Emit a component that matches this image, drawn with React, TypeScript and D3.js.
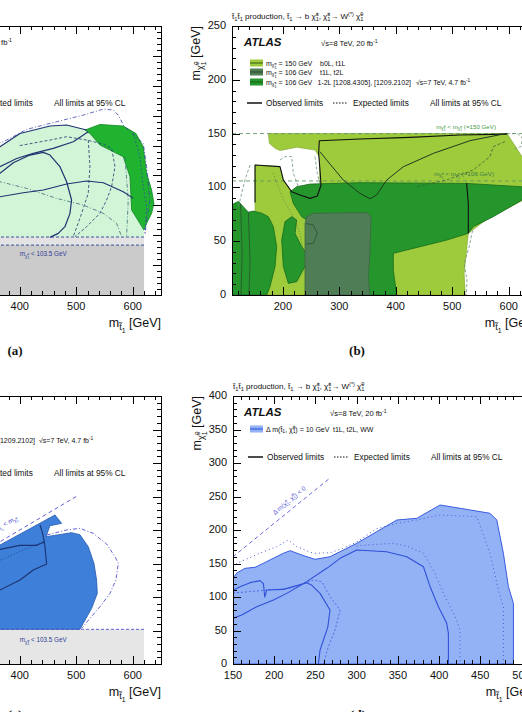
import React, { useEffect, useRef } from 'react';
import * as d3 from 'd3';

type Pt = [number, number];
type Seg = [string, string?, number?];

const W = 522;
const H = 712;
const FONT = "'Liberation Sans', 'DejaVu Sans', Arial, sans-serif";

const chi = '\u03c7\u0303';
const stop = 't\u0303';

// tick labels
const stopTicks = [200, 300, 400, 500, 600];
const aLspTicks = [0, 50, 100, 150, 200, 250, 300, 350, 400, 450];
const bLspTicks = [0, 50, 100, 150, 200, 250];
const cLspTicks = [0, 50, 100, 150, 200, 250, 300, 350, 400];
const dStopTicks = [150, 200, 250, 300, 350, 400, 450, 500];
const dLspTicks = [0, 50, 100, 150, 200, 250, 300, 350, 400];

// ---- (a) ----
const aLepLimit = 83.5;
const aBandEdge = 97;
const aGrayEnd = 620;
const aMintArea: Pt[] = [
  [112, 97], [130, 140], [200, 200], [300, 232], [364.9, 248.1], [400.3, 270.3], [453.4, 282.6],
  [482.9, 284.3], [518.3, 275.9], [541.9, 285.4], [583.2, 282.6], [605.6, 270.3], [618.6, 248],
  [620, 200], [620, 97],
];
const aGreenArea: Pt[] = [
  [515.4, 275.9], [541.9, 285.4], [583.2, 282.6], [605.6, 270.3], [618.6, 248], [624.5, 203.5],
  [633.4, 175.6], [637.5, 153.3], [633.4, 136.6], [624.5, 119.8], [619.8, 108.7], [598, 142.1],
  [595, 197.9], [583.2, 231.3], [565.5, 239.7], [541.9, 250.8], [524.2, 270.3],
];
const aObsTop: Pt[] = [
  [200, 200], [300, 232], [364.9, 248.1], [400.3, 270.3], [453.4, 282.6], [482.9, 284.3], [518.3, 275.9],
];
const aObs1: Pt[] = [
  [330, 180], [364.9, 203.5], [388.5, 221.3], [418, 234.1], [441.6, 238.6], [453.4, 234.1], [471.1, 214.6],
  [482.9, 189.5], [491.7, 158.9], [488.8, 136.6], [479.9, 114.3], [468.2, 103.1], [453.4, 96.4],
];
const aObs2: Pt[] = [
  [330, 160], [364.9, 164.4], [406.2, 171.1], [441.6, 175.6], [482.9, 185.6], [518.3, 190.6],
  [547.8, 187.8], [583.2, 172.8], [600.9, 161.6],
];
const aObs3: Pt[] = [
  [330, 205], [364.9, 214.6], [394.4, 228.5], [423.9, 236.9], [459.3, 245.3], [494.7, 256.4], [521.2, 273.1],
];
const aExp1: Pt[] = [
  [330, 240], [376.7, 259.2], [412.1, 277], [453.4, 287.1], [512.4, 301], [547.8, 311], [565.5, 309.4],
  [574.3, 301], [584.4, 282.6], [618.6, 253.6], [624.5, 214.6], [630.4, 158.9], [624.5, 125.4], [621.6, 100.3],
];
const aExp2: Pt[] = [
  [400, 250], [453.4, 259.2], [482.9, 264.8], [518.3, 259.2], [547.8, 252.5], [562.6, 245.3], [568.5, 214.6],
  [562.6, 181.2], [553.7, 158.9], [541.9, 136.6], [518.3, 114.3], [497.7, 97.5],
];
const aExp3: Pt[] = [[521.2, 259.2], [524.2, 214.6], [521.2, 170], [509.5, 136.6], [494.7, 97.5]];
const aExp4: Pt[] = [
  [330, 195], [364.9, 189.5], [412.1, 178.4], [465.2, 161.6], [512.4, 150.5], [547.8, 136.6], [571.4, 119.8], [580.3, 97.5],
];
const aExp5: Pt[] = [[586.1, 231.3], [592, 158.9], [589.1, 97.5]];
const aExp6: Pt[] = [[600.9, 270.3], [612.7, 231.3], [618.6, 181.2], [624.5, 147.7], [621.6, 103.1]];

// ---- (b) ----
const bMassHigh = 150;
const bMassLow = 106;
const bLightArea: Pt[] = [
  [174.4, 150], [597, 150], [623, 129], [650, 112], [650, 95], [560, 70], [528.4, 57.3], [525, 40],
  [521, 20], [523, 0], [150.8, 0], [150.8, 120.8], [195, 119.3], [200.9, 106.9], [215.7, 96.1],
  [265.8, 100.7], [264.6, 128.6], [257, 134.8], [224.5, 137.3], [195, 134.2], [186.2, 136.3], [176.1, 141],
];
const bDarkArea: Pt[] = [
  [212.7, 96], [224.5, 100.6], [248.1, 103.1], [336.6, 104.4], [525.4, 103.7], [623.3, 100.6], [650, 98],
  [650, 92], [623.2, 88.2], [572.6, 72.8], [537.2, 63.5], [528.4, 57.3], [490, 51], [443, 44.9],
  [395.6, 38.7], [395.6, 23.2], [401.5, 0], [242.2, 0], [242.2, 69.7], [233.4, 72.8], [218.6, 85.1],
];
const bSlateArea: Pt[] = [
  [242.2, 72.8], [254, 75.9], [348.4, 76.5], [356.1, 72.8], [354.3, 38.7], [351.4, 17], [354.3, 0],
  [239.3, 0], [239.3, 66.6],
];
const bBlobLeft: Pt[] = [
  [110, 84], [121.3, 87], [130.1, 82], [139, 77], [147.8, 78], [162.6, 76], [174.4, 72.8], [183.2, 63.5],
  [189.1, 45], [186.2, 26.4], [177.3, 7.8], [171.4, 0], [110, 0],
];
const bBlobMid: Pt[] = [
  [203.9, 68.2], [215.7, 72.8], [224.5, 69.7], [221.6, 57.3], [233.4, 45], [242.2, 38.8], [239.3, 26.4],
  [224.5, 12.4], [209.8, 10.8], [200.9, 26.4], [198, 51.2],
];
const bObs1: Pt[] = [
  [597, 149.5], [513.6, 148.7], [425.1, 146.5], [336.6, 145], [264.6, 143.4], [263.4, 131.6], [265.8, 116.1],
  [267.6, 102.2], [261.1, 92], [248.1, 89.8], [230.4, 92.9], [215.7, 96], [200.9, 106.9], [195, 119.3],
  [150.8, 120.8], [150.8, 86],
];
const bObs2: Pt[] = [
  [596.2, 150.2], [531.3, 143.4], [466.4, 131.6], [413.3, 119.2], [383.8, 106.8], [366.1, 92.9], [354.3, 89.5],
  [336.6, 94.4], [307.1, 106.8], [277.6, 125.4], [265.8, 133.2],
];
const bObs3: Pt[] = [[525.4, 104], [528.4, 85.1], [528.4, 57.3]];
const bObs4: Pt[] = [[125, 85], [128, 40], [126, 0]];
const bObs5: Pt[] = [[139, 77], [142, 30], [140, 0]];
const bObs6: Pt[] = [[241, 66.6], [254, 65], [261.1, 57.3], [254, 47.9], [241, 47.4]];
const bExp1: Pt[] = [[536, 60], [530, 45], [521, 29], [526, 14], [525, 0]];
const bExp2: Pt[] = [[593.3, 142.5], [572.6, 137.9], [566.7, 128.6], [537.2, 116.2], [490, 106.9], [436.9, 100.7]];
const bExp3: Pt[] = [[195, 125.5], [203.9, 128.6], [215.7, 128.6], [218.6, 113.1], [227.5, 100.7]];
const bExp4: Pt[] = [[257, 128.6], [261.1, 113.1], [265.8, 102.3]];
const bExp5: Pt[] = [[141.9, 120.8], [133, 106.9], [124.2, 88.3], [121.3, 82.1]];
const bExp6: Pt[] = [[183.2, 113.1], [200.9, 88.3], [218.6, 72.8], [230.4, 57.3], [239.3, 32.4], [245.2, 1.6]];
const bExp7: Pt[] = [[597, 150], [615, 150], [624, 146], [622, 138], [610, 136]];
const bLegendMasses = ['150', '106', '106'];
const bLegendAnalyses = ['b0L, t1L', 't1L, t2L', '1-2L [1208.4305], [1209.2102]'];

// ---- (c) ----
const cLepLimit = 51.75;
const cGrayEnd = 620;
const cDiagStop = [110, 502];
const cBlueArea: Pt[] = [
  [250, 51.75], [506.5, 51.75], [512.4, 60.7], [527.2, 83.1], [537.2, 105.4], [536, 125.3], [531.3, 150.2],
  [521.2, 175.1], [506.5, 193], [491.7, 196], [446.3, 190], [453.4, 206.4], [474.1, 209.9], [462.3, 222.4],
  [364.9, 177.6], [300, 146], [250, 121],
];
const cObs1: Pt[] = [[300, 150], [364.9, 171.1], [400.3, 177.1], [429.8, 177.1], [444.6, 182.6]];
const cObs2: Pt[] = [
  [435.7, 207.4], [440.4, 195], [444.6, 175.1], [447.5, 149.2], [423.9, 140.3], [400.3, 125.3], [364.9, 110.4], [320, 95],
];
const cExp1: Pt[] = [
  [447.5, 192.5], [482.9, 200], [506.5, 202.5], [530.1, 195], [553.7, 179.1], [568.5, 160.2], [574.4, 150.2],
  [570.2, 125.3], [559.6, 105.4], [541.9, 85.5], [524.2, 68.1], [509.5, 53.2],
];
const cExp2: Pt[] = [[364.9, 155], [400.3, 168], [424, 176], [444, 184]];

// ---- (d) ----
const dDiag: Pt[] = [[150, 160], [268, 278]];
const dBlueArea: Pt[] = [
  [150, 0], [150, 128], [154.5, 135.8], [164.6, 142.8], [176.7, 144.3], [186.8, 150.3], [198.9, 157.8],
  [211, 165.2], [219.2, 169.1], [233.4, 162.7], [249.5, 156.2], [267.7, 160.1], [279.9, 167.6],
  [300.1, 180.1], [324.4, 197.5], [348.7, 214.9], [372.9, 217.4], [401.2, 237.3], [425.5, 232.4],
  [461.9, 224.9], [470, 214.9], [478, 165.2], [484.1, 115.4], [490.2, 90.5], [490.2, 0],
];
const dObsInner: Pt[] = [
  [150, 68], [160.6, 73.1], [178.8, 85.5], [199, 95.5], [215.2, 105.4], [239.4, 122.9], [263.7, 142.8],
  [279.9, 157.7], [300.1, 170.1], [336.5, 167.6], [360.8, 160.2], [381, 145.2], [389.1, 115.4],
  [399.2, 85.5], [409.3, 60.7], [411.3, 45.7], [411.3, 0],
];
const dExpInner: Pt[] = [
  [300, 176], [312.2, 177.6], [344.6, 180.1], [360.8, 176.1], [381, 165.2], [393.1, 140.3], [405.3, 105.4],
  [419.4, 70.6], [425.5, 50.7], [425.5, 0],
];
const dObsSmall: Pt[] = [
  [150, 110], [158.5, 115.4], [170.7, 121.4], [182.8, 124.4], [186.9, 120], [188.5, 100], [190.9, 110.4],
  [211.1, 111.4], [239.4, 121.4], [245, 118], [255.6, 105.4], [267.7, 80.6], [265, 55], [255.6, 20.9], [253.6, 0],
];
const dExpSmall: Pt[] = [
  [150, 106], [170, 108], [190.9, 110.4], [219.2, 112.9], [247.5, 125.3], [257.6, 122.9], [267.7, 100.5],
  [279.9, 80.6], [273.8, 50.7], [265.7, 25.9], [259.7, 0],
];
const dExpOuter: Pt[] = [
  [150, 145], [154.5, 150.3], [186.8, 167.6], [203, 175.1], [217.1, 185.1], [227.3, 175.1], [247.5, 165.2],
  [267.7, 166.1], [282, 172], [300, 182], [324.4, 202], [348.7, 209.9], [372.9, 215], [401.2, 222.4],
  [445.8, 219.9], [461.9, 165.2], [472, 110.4], [478, 85.5], [478, 0],
];

// ---------- text helpers ----------
const SHIFT: Record<string, number> = { n: 0, sub: 0.25, ss: 0.45, sp: -0.1, sup: -0.4 };
const SCALE: Record<string, number> = { n: 1, sub: 0.72, ss: 0.55, sp: 0.55, sup: 0.68 };

function addText(parent: any, x: number, y: number, segs: Seg[], size: number, opts: any = {}) {
  const t = parent.append('text').attr('x', x).attr('y', y)
    .attr('font-family', opts.family || FONT).attr('font-size', size)
    .attr('fill', opts.fill || '#111').attr('text-anchor', opts.anchor || 'start');
  if (opts.weight) t.attr('font-weight', opts.weight);
  if (opts.italic) t.attr('font-style', 'italic');
  if (opts.rotate !== undefined) t.attr('transform', `rotate(${opts.rotate},${x},${y})`);
  let cur = 0;
  segs.forEach(([s, m = 'n', dx = 0]) => {
    const shift = SHIFT[m] * size;
    const ts = t.append('tspan').attr('dy', shift - cur).attr('font-size', SCALE[m] * size).text(s);
    if (dx) ts.attr('dx', dx * size);
    cur = shift;
  });
  return t;
}

const segMStop: Seg[] = [['m'], [stop, 'sub'], ['1', 'ss'], [' [GeV]']];
const segMLsp: Seg[] = [['m'], [chi, 'sub'], ['1', 'ss'], ['0', 'sp', -0.3], [' [GeV]']];
const segProcess: Seg[] = [
  [stop], ['1', 'sub'], [stop], ['1', 'sub'], [' production, '], [stop], ['1', 'sub'], [' \u2192 b '],
  [chi], ['1', 'sub'], ['\u00b1', 'sup', -0.4], [', '], [chi], ['1', 'sub'], ['\u00b1', 'sup', -0.4],
  ['\u2192 W'], ['(*)', 'sup'], [' '], [chi], ['1', 'sub'], ['0', 'sup', -0.4],
];
const segCharg = (rest: string): Seg[] => [['m'], [chi, 'sub'], ['1', 'ss'], ['\u00b1', 'sp', -0.3], [rest]];
const segLspBelow = (v: number): Seg[] => [
  ['m'], [chi, 'sub'], ['1', 'ss'], ['0', 'sp', -0.3], [' < m'], [chi, 'sub'], ['1', 'ss'], ['\u00b1', 'sp', -0.3], [` (=${v} GeV)`],
];

interface Layer { pts: Pt[]; fill?: string; stroke?: string; width?: number; dash?: string }
interface PanelSpec {
  id: string;
  xDomain: [number, number]; xRange: [number, number];
  yDomain: [number, number]; yRange: [number, number];
  xMajor: number; xMinor: number; yMajor: number; yMinor: number;
  xLabels: number[]; yLabels: number[];
  layers: Layer[];
}

function drawPanel(svg: any, p: PanelSpec) {
  const x = d3.scaleLinear().domain(p.xDomain).range(p.xRange);
  const y = d3.scaleLinear().domain(p.yDomain).range(p.yRange);
  const [x0, x1] = p.xRange;
  const [yb, yt] = p.yRange;
  const g = svg.append('g');
  g.append('clipPath').attr('id', `clip-${p.id}`).append('rect')
    .attr('x', x0).attr('y', yt).attr('width', x1 - x0).attr('height', yb - yt);
  const plot = g.append('g').attr('clip-path', `url(#clip-${p.id})`);
  const line = d3.line<Pt>().x(d => x(d[0])).y(d => y(d[1]));
  p.layers.forEach(l => {
    plot.append('path').attr('d', line(l.pts) + (l.fill ? 'Z' : ''))
      .attr('fill', l.fill || 'none').attr('stroke', l.stroke || 'none')
      .attr('stroke-width', l.width || 1).attr('stroke-dasharray', l.dash || null)
      .attr('stroke-linejoin', 'round');
  });

  // inward ticks on all four sides
  const tk = g.append('g').attr('stroke', '#000').attr('stroke-width', 1).attr('shape-rendering', 'crispEdges');
  const isMajor = (v: number, step: number) => Math.abs(v / step - Math.round(v / step)) < 1e-6;
  d3.range(Math.ceil(p.xDomain[0] / p.xMinor) * p.xMinor, p.xDomain[1] + 1e-6, p.xMinor).forEach(v => {
    const len = isMajor(v, p.xMajor) ? 8 : 4;
    const px = Math.round(x(v)) + 0.5;
    tk.append('line').attr('x1', px).attr('x2', px).attr('y1', yb).attr('y2', yb - len);
    tk.append('line').attr('x1', px).attr('x2', px).attr('y1', yt).attr('y2', yt + len);
  });
  d3.range(Math.ceil(p.yDomain[0] / p.yMinor) * p.yMinor, p.yDomain[1] + 1e-6, p.yMinor).forEach(v => {
    const len = isMajor(v, p.yMajor) ? 8 : 4;
    const py = Math.round(y(v)) + 0.5;
    tk.append('line').attr('y1', py).attr('y2', py).attr('x1', x0).attr('x2', x0 + len);
    tk.append('line').attr('y1', py).attr('y2', py).attr('x1', x1).attr('x2', x1 - len);
  });
  g.append('rect').attr('x', x0 + 0.5).attr('y', yt + 0.5).attr('width', x1 - x0).attr('height', yb - yt)
    .attr('fill', 'none').attr('stroke', '#000').attr('stroke-width', 1.2).attr('shape-rendering', 'crispEdges');

  p.xLabels.forEach(v => addText(g, x(v), yb + 15, [[String(v)]], 11, { anchor: 'middle' }));
  p.yLabels.forEach(v => addText(g, x0 - 6, y(v) + 3, [[String(v)]], 11, { anchor: 'end' }));
  addText(g, x1, yb + 32, segMStop, 12.5, { anchor: 'end' });
  addText(g, x0 - 32, yt, segMLsp, 12.5, { anchor: 'end', rotate: -90 });
  addText(g, x0, yt - 7, segProcess, 8);
  return { x, y, g };
}

function legendFrame(g: any, fx: number, ft: number, obsOff: number) {
  const yo = ft + obsOff;
  g.append('line').attr('x1', fx + 15).attr('x2', fx + 30).attr('y1', yo).attr('y2', yo)
    .attr('stroke', '#111').attr('stroke-width', 1.5);
  addText(g, fx + 34, yo + 3, [['Observed limits']], 8.3);
  g.append('line').attr('x1', fx + 101).attr('x2', fx + 116).attr('y1', yo).attr('y2', yo)
    .attr('stroke', '#111').attr('stroke-width', 1.2).attr('stroke-dasharray', '1.5,1.5');
  addText(g, fx + 121, yo + 3, [['Expected limits']], 8.3);
  addText(g, fx + 198, yo + 3, [['All limits at 95% CL']], 8.3);
}

function swatch(g: any, x: number, y: number, fill: string, lineColor: string) {
  g.append('rect').attr('x', x).attr('y', y - 3.5).attr('width', 13).attr('height', 7).attr('fill', fill);
  g.append('line').attr('x1', x).attr('x2', x + 13).attr('y1', y).attr('y2', y)
    .attr('stroke', lineColor).attr('stroke-width', 1.2);
}

const NAVY = '#1d3372';
const NAVY_DASH = '#3a44a8';
const GREEN_DASH = '#6e9278';

export default function App() {
  const svgRef = useRef<SVGSVGElement>(null);

  useEffect(() => {
    const svg = d3.select(svgRef.current);
    svg.selectAll('*').remove();
    svg.append('rect').attr('width', W).attr('height', H).attr('fill', '#fff');

    const hline = (v: number, a: number, b: number): Pt[] => [[a, v], [b, v]];
    const box = (x0: number, x1: number, y0: number, y1: number): Pt[] => [[x0, y0], [x1, y0], [x1, y1], [x0, y1]];

    // (a)
    const A = drawPanel(svg, {
      id: 'a', xDomain: [110, 650], xRange: [-144, 161], yDomain: [0, 450], yRange: [295, 26],
      xMajor: 100, xMinor: 20, yMajor: 50, yMinor: 10, xLabels: stopTicks, yLabels: aLspTicks,
      layers: [
        { pts: box(110, aGrayEnd, aLepLimit, aBandEdge), fill: '#e3e3e3' },
        { pts: box(110, aGrayEnd, 0, aLepLimit), fill: '#cbcbcb' },
        { pts: aMintArea, fill: '#d3f5d7' },
        { pts: aGreenArea, fill: '#1fb32f', stroke: '#15852a', width: 0.8 },
        { pts: hline(aBandEdge, 110, aGrayEnd), stroke: '#2b3f96', width: 0.9, dash: '3,2' },
        { pts: hline(aLepLimit, 110, aGrayEnd), stroke: '#2b3f96', width: 0.9, dash: '3,2' },
        { pts: aExp1, stroke: NAVY_DASH, width: 0.8, dash: '4,2,1,2' },
        { pts: aExp2, stroke: '#2a4f7a', width: 0.9, dash: '3,2' },
        { pts: aExp3, stroke: '#2a4f7a', width: 0.9, dash: '3,2' },
        { pts: aExp4, stroke: '#3a6a7a', width: 0.8, dash: '4,2,1,2' },
        { pts: aExp5, stroke: '#3a6a7a', width: 0.8, dash: '4,2,1,2' },
        { pts: aExp6, stroke: NAVY_DASH, width: 0.7, dash: '2,2' },
        { pts: aObsTop, stroke: NAVY, width: 1.1 },
        { pts: aObs1, stroke: NAVY, width: 1.2 },
        { pts: aObs2, stroke: NAVY, width: 1.1 },
        { pts: aObs3, stroke: NAVY, width: 1.1 },
      ],
    });
    addText(A.g, A.x(400), A.y(aLepLimit) + 11, segCharg(' < 103.5 GeV'), 6.3, { fill: '#2b3f96' });
    addText(A.g, 12, 45, [['\u221as=8 TeV, 20 fb'], ['-1', 'sup']], 7.6, { anchor: 'end' });
    legendFrame(A.g, -144, 26, 77);
    addText(svg, 15, 355, [['(a)']], 13, { anchor: 'middle', weight: 'bold', family: "'Liberation Serif', serif" });

    // (b)
    const B = drawPanel(svg, {
      id: 'b', xDomain: [110, 650], xRange: [232, 537], yDomain: [0, 250], yRange: [295, 26],
      xMajor: 100, xMinor: 20, yMajor: 50, yMinor: 10, xLabels: stopTicks, yLabels: bLspTicks,
      layers: [
        { pts: bLightArea, fill: '#9dcb3c', stroke: '#7aa52a', width: 0.6 },
        { pts: bDarkArea, fill: '#24962b', stroke: '#176b1c', width: 0.8 },
        { pts: bBlobLeft, fill: '#24962b', stroke: '#176b1c', width: 0.8 },
        { pts: bBlobMid, fill: '#24962b', stroke: '#176b1c', width: 0.8 },
        { pts: bSlateArea, fill: '#4f7d56', stroke: '#3d6444', width: 0.8 },
        { pts: hline(bMassHigh, 110, 650), stroke: '#5f9a62', width: 0.9, dash: '4,3' },
        { pts: hline(bMassLow, 110, 650), stroke: '#5f9a62', width: 0.9, dash: '4,3' },
        { pts: bExp1, stroke: GREEN_DASH, width: 0.8, dash: '3,2' },
        { pts: bExp2, stroke: '#355f3a', width: 0.8, dash: '3,2' },
        { pts: bExp3, stroke: GREEN_DASH, width: 0.8, dash: '3,2' },
        { pts: bExp4, stroke: GREEN_DASH, width: 0.8, dash: '3,2' },
        { pts: bExp5, stroke: GREEN_DASH, width: 0.8, dash: '3,2' },
        { pts: bExp6, stroke: '#5a7a40', width: 0.8, dash: '1,2' },
        { pts: bExp7, stroke: GREEN_DASH, width: 0.8, dash: '3,2' },
        { pts: bObs4, stroke: '#2f4f30', width: 0.8 },
        { pts: bObs5, stroke: '#2f4f30', width: 0.8 },
        { pts: bObs6, stroke: '#2f4f30', width: 0.8 },
        { pts: bObs1, stroke: '#111', width: 1.1 },
        { pts: bObs2, stroke: '#1e3a1e', width: 1 },
        { pts: bObs3, stroke: '#111', width: 1.1 },
      ],
    });
    addText(B.g, 496, B.y(bMassHigh) - 5, segLspBelow(bMassHigh), 6.2, { anchor: 'end', fill: '#3f9a45' });
    addText(B.g, 494, B.y(bMassLow) - 5, segLspBelow(bMassLow), 6.2, { anchor: 'end', fill: '#3f7a45' });
    addText(B.g, 244, 46, [['ATLAS']], 11.5, { weight: 'bold', italic: true });
    addText(B.g, 321, 46, [['\u221as=8 TeV, 20 fb'], ['-1', 'sup']], 7.6);
    const bFills = ['#9dcb3c', '#4f7d56', '#24962b'];
    const bLines = ['#4a6a20', '#2f4f30', '#176b1c'];
    [63, 72, 82].forEach((yy, i) => {
      swatch(B.g, 250, yy, bFills[i], bLines[i]);
      addText(B.g, 266, yy + 2.5, segCharg(` = ${bLegendMasses[i]} GeV`), 7);
      if (i < 2) addText(B.g, 320, yy + 2.5, [[bLegendAnalyses[i]]], 7);
    });
    addText(B.g, 411, 84.5, [[bLegendAnalyses[2]]], 7, { anchor: 'end' });
    addText(B.g, 416, 84.5, [['\u221as=7 TeV, 4.7 fb'], ['-1', 'sup']], 7);
    legendFrame(B.g, 232, 26, 77);
    addText(svg, 357, 355, [['(b)']], 13, { anchor: 'middle', weight: 'bold', family: "'Liberation Serif', serif" });

    // (c)
    const C = drawPanel(svg, {
      id: 'c', xDomain: [110, 650], xRange: [-144, 161], yDomain: [0, 400], yRange: [664, 396],
      xMajor: 100, xMinor: 20, yMajor: 50, yMinor: 10, xLabels: stopTicks, yLabels: cLspTicks,
      layers: [
        { pts: box(110, cGrayEnd, 0, cLepLimit), fill: '#e6e6e6' },
        { pts: cBlueArea, fill: '#3d7fd9', stroke: '#2658b0', width: 0.8 },
        { pts: hline(cLepLimit, 110, cGrayEnd), stroke: '#4f4fd0', width: 0.9, dash: '3,2' },
        { pts: cDiagStop.map(v => [v, v / 2] as Pt), stroke: '#4f4fd0', width: 0.9, dash: '4,3' },
        { pts: cExp1, stroke: '#4f4fd0', width: 0.9, dash: '4,2,1,2' },
        { pts: cExp2, stroke: '#1a3070', width: 0.7, dash: '1,2' },
        { pts: cObs1, stroke: NAVY, width: 1.1 },
        { pts: cObs2, stroke: NAVY, width: 1.1 },
      ],
    });
    addText(C.g, C.x(400), C.y(cLepLimit) + 13, segCharg(' < 103.5 GeV'), 6.3, { fill: '#2b3f96' });
    addText(C.g, 18, 519, [['m'], [stop, 'sub'], ['1', 'ss'], [' < m'], [chi, 'sub'], ['1', 'ss'], ['\u00b1', 'sp', -0.3]], 6.5,
      { anchor: 'end', rotate: -30, fill: '#4f4fd0' });
    addText(C.g, 35, 442.5, [['1-2L [1208.4305], [1209.2102]']], 7, { anchor: 'end' });
    addText(C.g, 39, 442.5, [['\u221as=7 TeV, 4.7 fb'], ['-1', 'sup']], 7);
    legendFrame(C.g, -144, 396, 77);
    addText(svg, 15, 719, [['(c)']], 13, { anchor: 'middle', weight: 'bold', family: "'Liberation Serif', serif" });

    // (d)
    const D = drawPanel(svg, {
      id: 'd', xDomain: [150, 520], xRange: [233, 538], yDomain: [0, 400], yRange: [664, 396],
      xMajor: 50, xMinor: 10, yMajor: 50, yMinor: 10, xLabels: dStopTicks, yLabels: dLspTicks,
      layers: [
        { pts: dBlueArea, fill: '#93b2f6', stroke: '#3a5ce0', width: 1 },
        { pts: dDiag, stroke: '#5a5ad8', width: 0.9, dash: '4,3' },
        { pts: dExpOuter, stroke: '#4a5ad0', width: 1, dash: '1,3' },
        { pts: dExpInner, stroke: '#4a5ad0', width: 1, dash: '1,3' },
        { pts: dExpSmall, stroke: '#3a5ce0', width: 0.8, dash: '2,2' },
        { pts: dObsInner, stroke: '#3050d8', width: 1.1 },
        { pts: dObsSmall, stroke: '#3050d8', width: 1.1 },
      ],
    });
    addText(D.g, 275, 515, [['\u0394 m('], [chi], ['1', 'sub'], ['\u00b1', 'sup', -0.4], [', '], [chi], ['1', 'sub'], ['0', 'sup', -0.4], [') < 0']], 6.3,
      { rotate: -40, fill: '#5a5ad8' });
    addText(D.g, 244, 416, [['ATLAS']], 11.5, { weight: 'bold', italic: true });
    addText(D.g, 330, 416, [['\u221as=8 TeV, 20 fb'], ['-1', 'sup']], 7.6);
    swatch(D.g, 250, 429, '#93b2f6', '#3a5ce0');
    addText(D.g, 266, 431.5, [['\u0394 m('], [stop], ['1', 'sub'], [', '], [chi], ['1', 'sub'], ['\u00b1', 'sup', -0.4], [') = 10 GeV']], 7);
    addText(D.g, 333, 431.5, [['t1L, t2L, WW']], 7);
    legendFrame(D.g, 233, 396, 61);
    addText(svg, 358, 719, [['(d)']], 13, { anchor: 'middle', weight: 'bold', family: "'Liberation Serif', serif" });
  }, []);

  return (
    <svg ref={svgRef} width={W} height={H}
      style={{ position: 'absolute', left: 0, top: 0, display: 'block' }} />
  );
}
